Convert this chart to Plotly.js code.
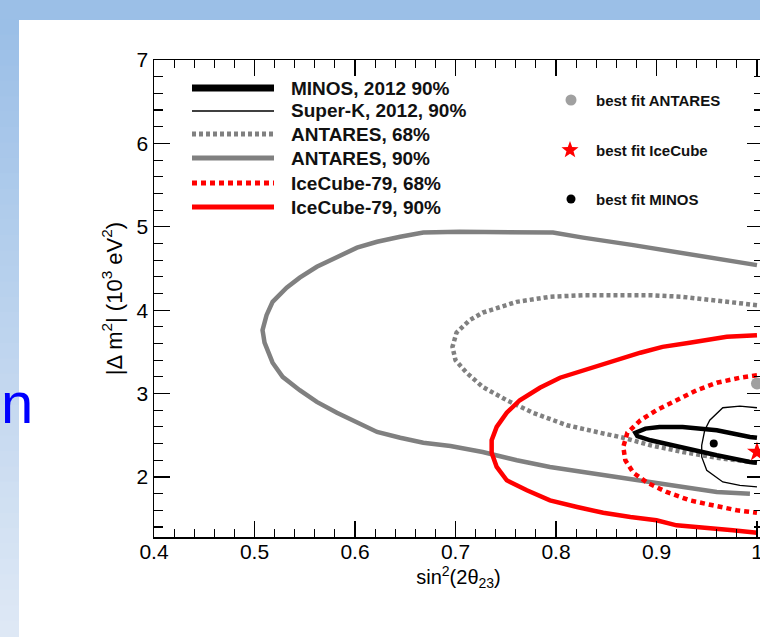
<!DOCTYPE html>
<html><head><meta charset="utf-8">
<script src="https://cdn.plot.ly/plotly-3.0.1.min.js"></script>
<style>html,body{margin:0;padding:0;overflow:hidden;background:#fff;width:760px;height:637px}#chart{width:770px;height:637px}</style>
</head><body><div id="chart"></div><script>
// ---- data (sin^2(2theta23), |dm^2| in 1e-3 eV^2) ----
const antares90X = [1.000,0.926,0.877,0.827,0.797,0.704,0.668,0.645,0.622,0.602,0.582,0.562,0.545,0.532,0.518,0.512,0.508,0.510,0.518,0.528,0.545,0.562,0.582,0.602,0.622,0.645,0.668,0.695,0.727,0.761,0.794,0.827,0.861,0.894,0.926,0.960,0.993];
const antares90Y = [4.54,4.69,4.78,4.87,4.93,4.94,4.93,4.88,4.82,4.75,4.64,4.52,4.39,4.27,4.10,3.94,3.76,3.61,3.37,3.20,3.04,2.90,2.77,2.65,2.54,2.47,2.41,2.37,2.30,2.20,2.12,2.06,2.00,1.94,1.88,1.82,1.80];
const antares68X = [1.000,0.960,0.926,0.894,0.827,0.794,0.761,0.727,0.714,0.701,0.697,0.700,0.711,0.727,0.751,0.777,0.811,0.844,0.867,0.894,0.926,0.960,1.000];
const antares68Y = [4.06,4.11,4.16,4.18,4.18,4.16,4.10,3.97,3.88,3.73,3.56,3.40,3.25,3.08,2.92,2.77,2.62,2.53,2.47,2.38,2.30,2.23,2.17];
const ice90X = [1.000,0.970,0.933,0.906,0.884,0.854,0.827,0.804,0.784,0.764,0.751,0.741,0.736,0.736,0.741,0.751,0.771,0.794,0.821,0.847,0.874,0.900,0.920,0.943,0.976,1.000];
const ice90Y = [3.70,3.68,3.61,3.56,3.49,3.38,3.28,3.19,3.07,2.92,2.77,2.60,2.44,2.29,2.12,1.96,1.84,1.72,1.64,1.57,1.52,1.48,1.42,1.40,1.36,1.33];
const ice68X = [1.000,0.983,0.960,0.940,0.920,0.900,0.884,0.871,0.867,0.869,0.877,0.891,0.910,0.933,0.956,0.980,1.000];
const ice68Y = [3.22,3.19,3.13,3.04,2.92,2.80,2.68,2.53,2.36,2.20,2.05,1.93,1.82,1.72,1.66,1.60,1.57];
const minosX = [1.000,0.993,0.960,0.926,0.903,0.889,0.879,0.881,0.894,0.926,0.960,0.993,1.000];
const minosY = [2.47,2.48,2.56,2.60,2.60,2.58,2.53,2.49,2.44,2.35,2.26,2.18,2.17];
const superkX = [1.000,0.983,0.966,0.953,0.948,0.945,0.945,0.950,0.966,0.983,1.000];
const superkY = [2.83,2.85,2.83,2.68,2.56,2.38,2.24,2.08,1.94,1.90,1.88];
const bestFitNames = ["best fit ANTARES","best fit IceCube","best fit MINOS"];
const bestFitX = [1.0, 1.0, 0.957];
const bestFitY = [3.12, 2.30, 2.40];
const lineNames = ["MINOS, 2012 90%","Super-K, 2012, 90%","ANTARES, 68%","ANTARES, 90%","IceCube-79, 68%","IceCube-79, 90%"];
const xTickVals = [0.4,0.5,0.6,0.7,0.8,0.9,1.0];
const xTickText = ["0.4","0.5","0.6","0.7","0.8","0.9","1"];
const yTickVals = [2,3,4,5,6,7];

// ---- styles ----
const GRAY = "#808080", RED = "#ff0000", BLACK = "#000000";
const lineStyles = [
  {color: BLACK, width: 4.5, dash: "solid", lw: 7},
  {color: BLACK, width: 1.3, dash: "solid", lw: 1.3},
  {color: GRAY, width: 4.5, dash: "4px,3px", lw: 5},
  {color: GRAY, width: 4.5, dash: "solid", lw: 5},
  {color: RED, width: 4.5, dash: "5px,4px", lw: 5},
  {color: RED, width: 4.5, dash: "solid", lw: 5}
];
const seriesData = [[minosX,minosY],[superkX,superkY],[antares68X,antares68Y],[antares90X,antares90Y],[ice68X,ice68Y],[ice90X,ice90Y]];
const drawOrder = [3,2,5,4,0,1];
const FONT = "Liberation Sans, Arial, Helvetica, sans-serif";

const traces = drawOrder.map(i => ({
  type: "scatter", mode: "lines", name: lineNames[i],
  x: seriesData[i][0], y: seriesData[i][1],
  line: {color: lineStyles[i].color, width: lineStyles[i].width, dash: lineStyles[i].dash},
  hoverinfo: "skip", showlegend: false, cliponaxis: true
}));
const markerStyles = [
  {color: "#a0a0a0", size: 12, symbol: "circle"},
  {color: RED, size: 15, symbol: "star"},
  {color: BLACK, size: 8, symbol: "circle"}
];
bestFitNames.forEach((n, i) => traces.push({
  type: "scatter", mode: "markers", name: n,
  x: [bestFitX[i]], y: [bestFitY[i]],
  marker: {color: markerStyles[i].color, size: markerStyles[i].size, symbol: markerStyles[i].symbol, line: {width: 0}},
  hoverinfo: "skip", showlegend: false, cliponaxis: false
}));

// ---- pixel geometry helpers ----
const W = 770, H = 637, L = 154, R = 7, T = 60, B = 100;
const PW = W - L - R, PH = H - T - B;
const px = p => (p - L) / PW;
const py = p => (H - B - p) / PH;

const shapes = [];
const annotations = [];
// slide background: top band + left gradient band
shapes.push({type: "rect", xref: "paper", yref: "paper", x0: px(0), x1: px(W), y0: py(0), y1: py(20),
  fillcolor: "#9bbfe7", line: {width: 0}, layer: "below"});
const c0 = [155,191,231], c1 = [222,232,245], N = 40;
for (let k = 0; k < N; k++) {
  const t = k / (N - 1);
  const c = c0.map((v, j) => Math.round(v + (c1[j] - v) * t));
  const ya = 20 + (H - 20) * k / N, yb = 20 + (H - 20) * (k + 1) / N;
  shapes.push({type: "rect", xref: "paper", yref: "paper", x0: px(0), x1: px(19), y0: py(yb), y1: py(ya) + 0.002,
    fillcolor: `rgb(${c[0]},${c[1]},${c[2]})`, line: {width: 0}, layer: "below"});
}
annotations.push({xref: "paper", yref: "paper", x: px(-1), y: py(402), xanchor: "left", yanchor: "middle",
  text: "n", showarrow: false, font: {family: FONT, size: 58, color: "#0000ff"}});

// left legend (lines)
const rowsL = [88,111,134,158,183,207];
lineNames.forEach((n, i) => {
  const s = lineStyles[i];
  shapes.push({type: "line", xref: "paper", yref: "paper", x0: px(192), x1: px(274), y0: py(rowsL[i]), y1: py(rowsL[i]),
    line: {color: s.color, width: s.lw, dash: s.dash}});
  annotations.push({xref: "paper", yref: "paper", x: px(289), y: py(rowsL[i]), xanchor: "left", yanchor: "middle",
    text: "<b>" + n + "</b>", showarrow: false, font: {family: FONT, size: 19, color: "#111"}});
});
// right legend (best fit markers)
const rowsR = [100,150,199];
const mx = 571;
shapes.push({type: "circle", xref: "paper", yref: "paper", x0: px(mx - 5.5), x1: px(mx + 5.5), y0: py(rowsR[0] + 5.5), y1: py(rowsR[0] - 5.5),
  fillcolor: "#a0a0a0", line: {width: 0}});
(function () {
  const cx = mx - 1, cy = rowsR[1], ro = 9, ri = 3.7;
  let d = "";
  for (let k = 0; k < 10; k++) {
    const r = k % 2 === 0 ? ro : ri;
    const a = -Math.PI / 2 + k * Math.PI / 5;
    const X = px(cx + r * Math.cos(a)), Y = py(cy + r * Math.sin(a));
    d += (k === 0 ? "M" : "L") + X + "," + Y;
  }
  shapes.push({type: "path", xref: "paper", yref: "paper", path: d + "Z", fillcolor: RED, line: {width: 0}});
})();
shapes.push({type: "circle", xref: "paper", yref: "paper", x0: px(mx - 4.5), x1: px(mx + 4.5), y0: py(rowsR[2] + 4.5), y1: py(rowsR[2] - 4.5),
  fillcolor: BLACK, line: {width: 0}});
bestFitNames.forEach((n, i) => annotations.push({xref: "paper", yref: "paper", x: px(594), y: py(rowsR[i]), xanchor: "left", yanchor: "middle",
  text: "<b>" + n + "</b>", showarrow: false, font: {family: FONT, size: 15, color: "#111"}}));

const layout = {
  width: W, height: H,
  margin: {l: L, r: R, t: T, b: B, pad: 0},
  paper_bgcolor: "#ffffff", plot_bgcolor: "#ffffff",
  font: {family: FONT, color: "#000"},
  showlegend: false,
  xaxis: {
    range: [0.4, 1.006], showgrid: false, zeroline: false,
    showline: true, linecolor: "#000", linewidth: 1.5, mirror: "ticks",
    ticks: "inside", ticklen: 16, tickwidth: 1.2, tickcolor: "#000",
    tickvals: xTickVals, ticktext: xTickText, ticklabelstandoff: -5,
    tickfont: {family: FONT, size: 21, color: "#000"},
    minor: {dtick: 0.02, tick0: 0, ticks: "inside", ticklen: 8, tickwidth: 1.1, tickcolor: "#000"},
    title: {text: "sin<sup>2</sup>(2θ<sub>23</sub>)", font: {family: FONT, size: 20, color: "#000"}, standoff: 4}
  },
  yaxis: {
    range: [1.28, 7], showgrid: false, zeroline: false,
    showline: true, linecolor: "#000", linewidth: 1.5, mirror: "ticks",
    ticks: "inside", ticklen: 16, tickwidth: 1.2, tickcolor: "#000",
    tickvals: yTickVals, ticklabelstandoff: 0,
    tickfont: {family: FONT, size: 21, color: "#000"},
    minor: {dtick: 0.2, tick0: 0, ticks: "inside", ticklen: 9, tickwidth: 1.1, tickcolor: "#000"},
    title: {text: "|Δ m<sup>2</sup>| (10<sup>3</sup> eV<sup>2</sup>)", font: {family: FONT, size: 22, color: "#000"}, standoff: 8}
  },
  shapes: shapes, annotations: annotations
};
Plotly.newPlot("chart", traces, layout, {staticPlot: true, displayModeBar: false});
</script></body></html>
